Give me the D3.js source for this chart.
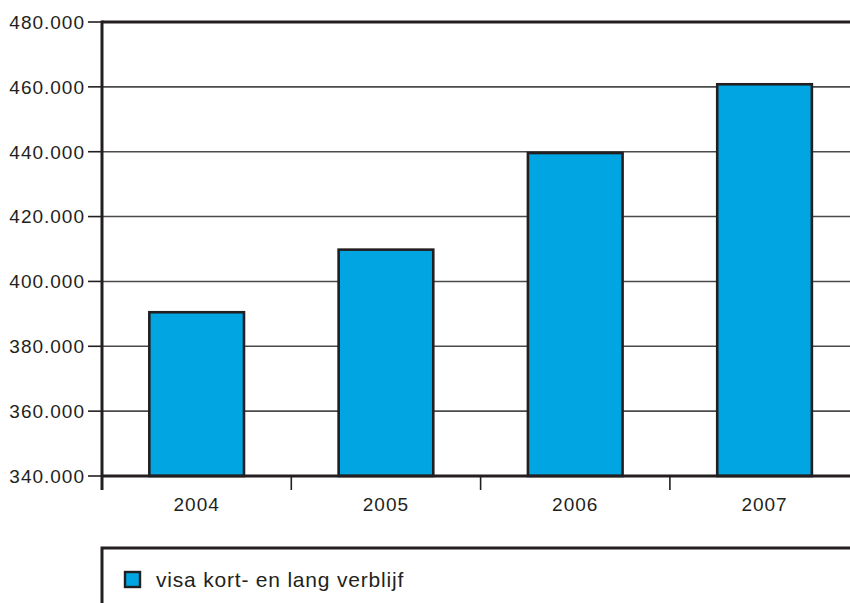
<!DOCTYPE html>
<html>
<head>
<meta charset="utf-8">
<script src="https://cdn.jsdelivr.net/npm/d3@7"></script>
<style>
	body { margin: 0; background: #fff; }
	svg { display: block; font-family: "Liberation Sans", Arial, sans-serif; }
</style>
</head>
<body>
<svg></svg>
<script>
const years = ["2004", "2005", "2006", "2007"];
const visa = [390500, 409800, 439600, 460800];
const yTicks = [340000, 360000, 380000, 400000, 420000, 440000, 460000, 480000];
const legendLabel = "visa kort- en lang verblijf";

const size = { w: 850, h: 603 };
const margin = { t: 22, l: 102, b: 127 };
const barColor = "#00a5e1";

const svg = d3.select("svg").attr("width", size.w).attr("height", size.h);

const scaleX = d3
	.scaleBand()
	.domain(years)
	.range([margin.l, margin.l + 189.3 * years.length]);

const scaleY = d3
	.scaleLinear()
	.domain([340000, 480000])
	.range([size.h - margin.b, margin.t]);

const fmt = (v) => d3.format(",")(v).replace(/,/g, ".");

// gridlines
svg.append("g")
	.selectAll("line")
	.data(yTicks.slice(1, -1))
	.join("line")
	.attr("x1", margin.l)
	.attr("x2", size.w)
	.attr("y1", (d) => scaleY(d))
	.attr("y2", (d) => scaleY(d))
	.attr("stroke", "#4a4a4a")
	.attr("stroke-width", 1.6);

// bars
const bw = scaleX.bandwidth() * 0.5;
svg.append("g")
	.selectAll("rect")
	.data(years)
	.join("rect")
	.attr("x", (d) => scaleX(d) + scaleX.bandwidth() / 2 - bw / 2)
	.attr("y", (d, i) => scaleY(visa[i]))
	.attr("width", bw)
	.attr("height", (d, i) => scaleY(340000) - scaleY(visa[i]))
	.attr("fill", barColor)
	.attr("stroke", "#231f20")
	.attr("stroke-width", 2.6);

// frame lines
const axisG = svg.append("g").attr("stroke", "#231f20").attr("stroke-width", 3);
axisG.append("line")
	.attr("x1", margin.l).attr("x2", size.w)
	.attr("y1", scaleY(480000)).attr("y2", scaleY(480000));
axisG.append("line")
	.attr("x1", margin.l).attr("x2", size.w)
	.attr("y1", scaleY(340000)).attr("y2", scaleY(340000));
axisG.append("line")
	.attr("x1", margin.l).attr("x2", margin.l)
	.attr("y1", scaleY(480000) - 1.5).attr("y2", scaleY(340000) + 14);

// y ticks + labels
const yAxis = svg.append("g");
yAxis.selectAll("line")
	.data(yTicks)
	.join("line")
	.attr("x1", margin.l - 14)
	.attr("x2", margin.l)
	.attr("y1", (d) => scaleY(d))
	.attr("y2", (d) => scaleY(d))
	.attr("stroke", "#231f20")
	.attr("stroke-width", 1.6);
yAxis.selectAll("text")
	.data(yTicks)
	.join("text")
	.attr("x", margin.l - 17)
	.attr("y", (d) => scaleY(d))
	.attr("dy", "0.36em")
	.attr("text-anchor", "end")
	.attr("font-size", 19)
	.attr("letter-spacing", 1)
	.attr("fill", "#231f20")
	.text(fmt);

// x ticks + labels
const xAxis = svg.append("g");
xAxis.selectAll("line")
	.data(years.slice(1))
	.join("line")
	.attr("x1", (d) => scaleX(d))
	.attr("x2", (d) => scaleX(d))
	.attr("y1", scaleY(340000))
	.attr("y2", scaleY(340000) + 14)
	.attr("stroke", "#231f20")
	.attr("stroke-width", 1.6);
xAxis.selectAll("text")
	.data(years)
	.join("text")
	.attr("x", (d) => scaleX(d) + scaleX.bandwidth() / 2)
	.attr("y", scaleY(340000) + 35)
	.attr("text-anchor", "middle")
	.attr("font-size", 19)
	.attr("letter-spacing", 1)
	.attr("fill", "#231f20")
	.text((d) => d);

// legend
const legend = svg.append("g");
legend.append("path")
	.attr("d", `M${margin.l},${size.h + 5}V548H${size.w + 5}`)
	.attr("fill", "none")
	.attr("stroke", "#231f20")
	.attr("stroke-width", 3);
legend.append("rect")
	.attr("x", 125)
	.attr("y", 572)
	.attr("width", 15)
	.attr("height", 15)
	.attr("fill", barColor)
	.attr("stroke", "#231f20")
	.attr("stroke-width", 2.4);
legend.append("text")
	.attr("x", 156)
	.attr("y", 587)
	.attr("font-size", 21)
	.attr("letter-spacing", 0.8)
	.attr("fill", "#231f20")
	.text(legendLabel);
</script>
</body>
</html>
